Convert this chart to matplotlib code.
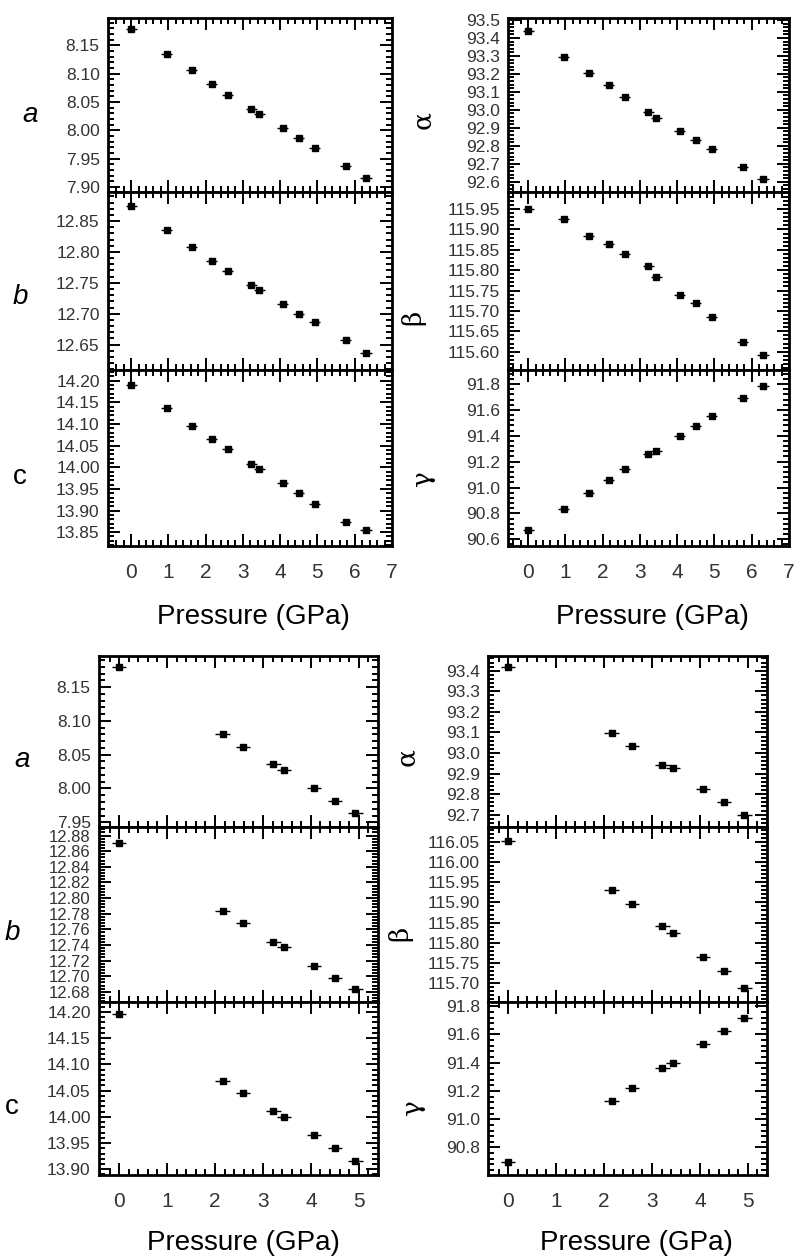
import matplotlib
matplotlib.use("Agg")
import matplotlib.pyplot as plt
from matplotlib.ticker import MultipleLocator, AutoMinorLocator, FormatStrFormatter

plt.rcParams['font.family'] = ['Liberation Sans', 'DejaVu Sans']

# pressures (GPa)
p_top = [0, 0.96, 1.63, 2.16, 2.59, 3.22, 3.44, 4.07, 4.50, 4.93, 5.76, 6.30]
p_bot = [0, 2.16, 2.59, 3.22, 3.44, 4.07, 4.50, 4.93]
p_err = 0.15

# top block: lattice parameters
a_top = [8.178, 8.135, 8.106, 8.081, 8.063, 8.037, 8.029, 8.004, 7.987, 7.969, 7.936, 7.915]
b_top = [12.874, 12.835, 12.808, 12.785, 12.769, 12.746, 12.738, 12.716, 12.700, 12.686, 12.657, 12.636]
c_top = [14.191, 14.137, 14.096, 14.065, 14.042, 14.008, 13.996, 13.963, 13.940, 13.915, 13.874, 13.856]
alpha_top = [93.439, 93.296, 93.205, 93.138, 93.072, 92.986, 92.954, 92.884, 92.830, 92.782, 92.680, 92.618]
beta_top = [115.950, 115.926, 115.883, 115.864, 115.841, 115.810, 115.784, 115.740, 115.720, 115.685, 115.624, 115.592]
gamma_top = [90.672, 90.836, 90.960, 91.058, 91.141, 91.257, 91.285, 91.398, 91.476, 91.553, 91.690, 91.785]

# bottom block
a_bot = [8.180, 8.081, 8.062, 8.036, 8.028, 8.000, 7.982, 7.963]
b_bot = [12.871, 12.783, 12.768, 12.744, 12.737, 12.713, 12.698, 12.684]
c_bot = [14.196, 14.069, 14.045, 14.011, 14.000, 13.965, 13.941, 13.915]
alpha_bot = [93.420, 93.097, 93.035, 92.942, 92.926, 92.826, 92.763, 92.700]
beta_bot = [116.054, 115.930, 115.896, 115.841, 115.825, 115.765, 115.728, 115.686]
gamma_bot = [90.694, 91.131, 91.221, 91.362, 91.395, 91.530, 91.622, 91.715]

W, H = 795, 1258


def rect(x0, x1, y0, y1):
    return [x0 / W, 1 - y1 / H, (x1 - x0) / W, (y1 - y0) / H]


def panel(fig, r, x, y, xlim, ylim, major, fmt, show_x, ysize):
    ax = fig.add_axes(r)
    ax.errorbar(x, y, xerr=p_err, fmt='s', color='black', ms=4.5,
                elinewidth=1.0, capsize=0)
    ax.set_xlim(*xlim)
    ax.set_ylim(*ylim)
    ax.xaxis.set_major_locator(MultipleLocator(1))
    ax.xaxis.set_minor_locator(AutoMinorLocator(5))
    ax.yaxis.set_major_locator(MultipleLocator(major))
    ax.yaxis.set_minor_locator(AutoMinorLocator(5))
    ax.yaxis.set_major_formatter(FormatStrFormatter(fmt))
    ax.tick_params(which='both', direction='in', top=True, right=True, width=1.4)
    ax.tick_params(which='major', length=8.5)
    ax.tick_params(which='minor', length=4.5)
    ax.tick_params(axis='y', labelsize=ysize, pad=6, labelcolor='#333333')
    ax.tick_params(axis='x', labelsize=15, pad=12, labelcolor='#333333')
    if not show_x:
        ax.tick_params(axis='x', labelbottom=False)
    for s in ax.spines.values():
        s.set_linewidth(2.0)
    return ax


def main():
    fig = plt.figure(figsize=(W / 100, H / 100), dpi=100)

    rows_top = [(18, 192), (192, 370), (370, 546)]
    rows_bot = [(656, 827), (827, 1002), (1002, 1175)]

    # top left
    xl = (-0.62, 7.0)
    panel(fig, rect(108, 392, *rows_top[0]), p_top, a_top, xl, (7.891, 8.198), 0.05, '%.2f', False, 12.5)
    panel(fig, rect(108, 392, *rows_top[1]), p_top, b_top, xl, (12.609, 12.897), 0.05, '%.2f', False, 12.5)
    panel(fig, rect(108, 392, *rows_top[2]), p_top, c_top, xl, (13.818, 14.225), 0.05, '%.2f', True, 12.5)

    # top right
    xr = (-0.54, 7.0)
    panel(fig, rect(508, 789, *rows_top[0]), p_top, alpha_top, xr, (92.543, 93.511), 0.1, '%.1f', False, 12.5)
    panel(fig, rect(508, 789, *rows_top[1]), p_top, beta_top, xr, (115.555, 115.992), 0.05, '%.2f', False, 12.5)
    panel(fig, rect(508, 789, *rows_top[2]), p_top, gamma_top, xr, (90.548, 91.908), 0.2, '%.1f', True, 12.5)

    # bottom left
    xb = (-0.42, 5.4)
    panel(fig, rect(99, 378, *rows_bot[0]), p_bot, a_bot, xb, (7.943, 8.196), 0.05, '%.2f', False, 12.5)
    panel(fig, rect(99, 378, *rows_bot[1]), p_bot, b_bot, xb, (12.667, 12.891), 0.02, '%.2f', False, 12)
    panel(fig, rect(99, 378, *rows_bot[2]), p_bot, c_bot, xb, (13.889, 14.219), 0.05, '%.2f', True, 12.5)

    # bottom right
    panel(fig, rect(488, 767, *rows_bot[0]), p_bot, alpha_bot, xb, (92.64, 93.472), 0.1, '%.1f', False, 12.5)
    panel(fig, rect(488, 767, *rows_bot[1]), p_bot, beta_bot, xb, (115.652, 116.088), 0.05, '%.2f', False, 12.5)
    panel(fig, rect(488, 767, *rows_bot[2]), p_bot, gamma_bot, xb, (90.605, 91.83), 0.2, '%.1f', True, 12.5)

    def label(x, y, s, **kw):
        fig.text(x / W, 1 - y / H, s, ha='center', va='center', **kw)

    # panel letters
    label(30, 115, 'a', fontsize=20, style='italic')
    label(20, 297, 'b', fontsize=20, style='italic')
    label(20, 477, 'c', fontsize=20)
    label(423, 120, '\u03b1', fontsize=19, rotation=90, family='DejaVu Serif')
    label(413, 317, '\u03b2', fontsize=19, rotation=90, family='DejaVu Serif')
    label(423, 478, '\u03b3', fontsize=19, rotation=90, family='DejaVu Serif')

    label(22, 760, 'a', fontsize=20, style='italic')
    label(12, 933, 'b', fontsize=20, style='italic')
    label(12, 1107, 'c', fontsize=20)
    label(407, 757, '\u03b1', fontsize=19, rotation=90, family='DejaVu Serif')
    label(400, 933, '\u03b2', fontsize=19, rotation=90, family='DejaVu Serif')
    label(412, 1107, '\u03b3', fontsize=19, rotation=90, family='DejaVu Serif')

    # axis titles
    label(253, 617, 'Pressure (GPa)', fontsize=20)
    label(652, 617, 'Pressure (GPa)', fontsize=20)
    label(243, 1243, 'Pressure (GPa)', fontsize=20)
    label(636, 1243, 'Pressure (GPa)', fontsize=20)

    fig.savefig('out.png', dpi=100)


if __name__ == "__main__":
    main()
